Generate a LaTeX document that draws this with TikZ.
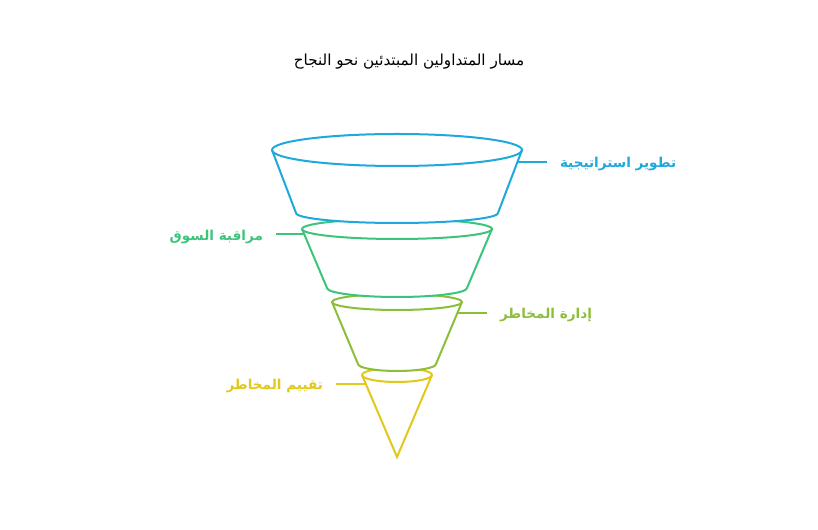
\documentclass[tikz,border=0pt]{standalone}
\usepackage{fontspec}
\usepackage{tikz}
\usetikzlibrary{calc}
\TeXXeTstate=1
\newfontfamily\arabicfont[Script=Arabic]{DejaVu Sans}
\definecolor{stratcolor}{HTML}{1FA8DC}
\definecolor{marketcolor}{HTML}{3CC47C}
\definecolor{riskcolor}{HTML}{8BBF3A}
\definecolor{evalcolor}{HTML}{E2C81A}

\begin{document}
\begin{tikzpicture}[x=0.75pt,y=-0.75pt,line width=1.5pt,
  steplabel/.style={font=\arabicfont\bfseries\fontsize{10.2}{12}\selectfont,inner sep=9pt}]
\useasboundingbox (0,0) rectangle (818,530);
% title
\node (title) at (409,62) {\arabicfont\fontsize{11.4}{13}\selectfont\beginR مسار المتداولين المبتدئين نحو النجاح\endR};
% cone at the bottom
\fill[white] (362,375) -- (397,457) -- (432,375) arc[start angle=0,end angle=-180,x radius=35,y radius=7] -- cycle;
\draw[color=evalcolor] (362,375) -- (397,457) -- (432,375);
\draw[color=evalcolor] (397,375) ellipse [x radius=35,y radius=7];
% funnel segments, lowest first
\foreach \c/\yt/\rt/\ht/\yb/\rb/\hb in {riskcolor/302/65/8/364/39/7, marketcolor/229/95/10/288/70/9, stratcolor/150/125/16/213/101/10}
{
  \fill[white] (397-\rt,\yt) -- (397-\rb,\yb) arc[start angle=180,end angle=0,x radius=\rb,y radius=\hb] -- (397+\rt,\yt) arc[start angle=0,end angle=-180,x radius=\rt,y radius=\ht] -- cycle;
  \draw[color=\c] (397-\rt,\yt) -- (397-\rb,\yb) arc[start angle=180,end angle=0,x radius=\rb,y radius=\hb] -- (397+\rt,\yt);
  \draw[color=\c] (397,\yt) ellipse [x radius=\rt,y radius=\ht];
}
% labels
\node[steplabel,anchor=west,text=stratcolor] (strat) at (547,164) {\beginR تطوير استراتيجية\endR};
\node[steplabel,anchor=east,text=marketcolor] (market) at (276,237) {\beginR مراقبة السوق\endR};
\node[steplabel,anchor=west,text=riskcolor] (risk) at (487,315) {\beginR إدارة المخاطر\endR};
\node[steplabel,anchor=east,text=evalcolor] (eval) at (336,386) {\beginR تقييم المخاطر\endR};
\coordinate (strat-a) at (517,162);
\coordinate (market-a) at (304,234);
\coordinate (risk-a) at (457,313);
\coordinate (eval-a) at (366,384);
\draw[stratcolor] (strat-a) -- (strat-a -| strat.west);
\draw[marketcolor] (market-a) -- (market-a -| market.east);
\draw[riskcolor] (risk-a) -- (risk-a -| risk.west);
\draw[evalcolor] (eval-a) -- (eval-a -| eval.east);
\end{tikzpicture}
\end{document}
